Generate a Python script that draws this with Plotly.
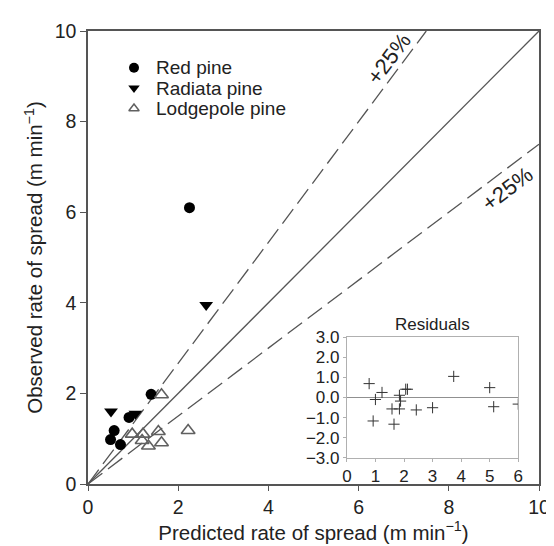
import plotly.graph_objects as go

# --- data ---
red_x = [2.25, 1.40, 0.91, 0.58, 0.50, 0.72]
red_y = [6.10, 1.98, 1.47, 1.18, 0.98, 0.87]
rad_x = [0.51, 1.05, 2.62]
rad_y = [1.60, 1.55, 3.95]
lod_x = [1.63, 0.98, 1.22, 1.56, 1.20, 1.34, 1.63, 2.22]
lod_y = [1.97, 1.10, 1.10, 1.16, 0.96, 0.84, 0.91, 1.18]

res_x = [0.78, 1.23, 1.00, 0.92, 1.58, 1.84, 1.84, 1.88, 2.06, 2.12, 1.65, 2.43, 3.00, 3.74, 5.00, 5.14, 6.00]
res_y = [0.69, 0.25, -0.10, -1.17, -0.57, -0.57, 0.11, -0.18, 0.41, 0.41, -1.33, -0.62, -0.51, 1.05, 0.49, -0.46, -0.33]

ref_ratio = [1.0, 4/3, 0.75]
ref_dash = ["solid", "18px,7px", "18px,7px"]
ticks_main = [0, 2, 4, 6, 8, 10]
ticks_res_x = [0, 1, 2, 3, 4, 5, 6]
ticks_res_y = [3, 2, 1, 0, -1, -2, -3]

legend_names = ["Red pine", "Radiata pine", "Lodgepole pine"]

FONT = "Liberation Sans, Arial, Helvetica, sans-serif"
LC = "#555555"
TC = "#222222"

red_marker = dict(symbol="circle", size=11, color="black")
rad_marker = dict(symbol="triangle-down", size=12, color="black")
lod_marker = dict(symbol="triangle-up-open", size=12, color="#606060",
                  line=dict(width=1.6, color="#606060"))

fig = go.Figure()

for r, d in zip(ref_ratio, ref_dash):
    xe = min(10, 10 / r)
    fig.add_trace(go.Scatter(x=[0, xe], y=[0, xe * r], mode="lines",
                             line=dict(color=LC, width=1.3, dash=d),
                             showlegend=False, hoverinfo="skip"))

fig.add_trace(go.Scatter(x=red_x, y=red_y, mode="markers", name=legend_names[0],
                         marker=red_marker, showlegend=False))
fig.add_trace(go.Scatter(x=rad_x, y=rad_y, mode="markers", name=legend_names[1],
                         marker=rad_marker, showlegend=False))
fig.add_trace(go.Scatter(x=lod_x, y=lod_y, mode="markers", name=legend_names[2],
                         marker=lod_marker, showlegend=False))

# residuals inset
fig.add_trace(go.Scatter(x=res_x, y=res_y, mode="markers", xaxis="x2", yaxis="y2",
                         showlegend=False,
                         marker=dict(symbol="cross-thin", size=8,
                                     line=dict(width=1, color="#333333"))))

# manual legend (keys on an invisible overlay axis spanning the plot area)
leg_key_x = 0.102
leg_text_x = 0.148
leg_rows = [0.919, 0.874, 0.829]
leg_small = [dict(red_marker, size=10), dict(rad_marker, size=10),
             dict(lod_marker, size=9, line=dict(width=1.5, color="#606060"))]
for name, row, mk in zip(legend_names, leg_rows, leg_small):
    fig.add_trace(go.Scatter(x=[leg_key_x], y=[row], mode="markers", xaxis="x3", yaxis="y3",
                             marker=mk, showlegend=False, hoverinfo="skip"))
    fig.add_annotation(x=leg_text_x, y=row, xref="paper", yref="paper", xanchor="left",
                       yanchor="middle", text=name, showarrow=False, borderpad=0,
                       font=dict(size=19, color=TC, family=FONT))

fig.add_annotation(x=6.67, y=9.4, text="+25%", textangle=-53, showarrow=False,
                   font=dict(size=22, color=TC, family=FONT))
fig.add_annotation(x=9.31, y=6.52, text="+25%", textangle=-37, showarrow=False,
                   font=dict(size=22, color=TC, family=FONT))
fig.add_annotation(x=0.5, y=1.0, xref="x2 domain", yref="y2 domain", yanchor="bottom",
                   yshift=1, text="Residuals", showarrow=False,
                   font=dict(size=17, color=TC, family=FONT))

fig.update_layout(
    width=554, height=546,
    margin=dict(l=80, r=14, t=22, b=70),
    paper_bgcolor="white", plot_bgcolor="white",
    font=dict(family=FONT, size=20, color=TC),
    showlegend=False,
    xaxis=dict(range=[0, 10], tickvals=ticks_main, showgrid=False, zeroline=False,
               showline=True, linecolor=LC, linewidth=1.5, mirror=True,
               ticks="outside", ticklen=5, tickcolor=LC, tickfont=dict(size=19.5),
               title=dict(text="Predicted rate of spread (m min<sup>−1</sup>)",
                          font=dict(size=20.5), standoff=0)),
    yaxis=dict(range=[0, 10], tickvals=ticks_main, showgrid=False, zeroline=False,
               showline=True, linecolor=LC, linewidth=1.5, mirror=True,
               ticks="outside", ticklen=6, tickcolor=LC, tickfont=dict(size=19.5),
               title=dict(text="Observed rate of spread (m min<sup>−1</sup>)",
                          font=dict(size=20.5), standoff=6)),
    xaxis2=dict(domain=[0.574, 0.954], anchor="y2", range=[0, 6], tickvals=ticks_res_x,
                showgrid=False, zeroline=False, showline=True, linecolor="#b0b0b0",
                linewidth=1, mirror=True, ticks="outside", ticklen=3, tickcolor="#b0b0b0",
                tickfont=dict(size=17)),
    yaxis2=dict(domain=[0.058, 0.324], anchor="x2", range=[-3, 3], tickvals=ticks_res_y,
                tickformat=".1f", showgrid=False, zeroline=True, zerolinecolor="#909090",
                zerolinewidth=1, showline=True, linecolor="#b0b0b0", linewidth=1,
                mirror=True, ticks="outside", ticklen=3, tickcolor="#b0b0b0",
                tickfont=dict(size=17)),
    xaxis3=dict(domain=[0, 1], range=[0, 1], overlaying="x", anchor="y3", visible=False),
    yaxis3=dict(domain=[0, 1], range=[0, 1], overlaying="y", anchor="x3", visible=False),
)

fig.write_html("out.html")
